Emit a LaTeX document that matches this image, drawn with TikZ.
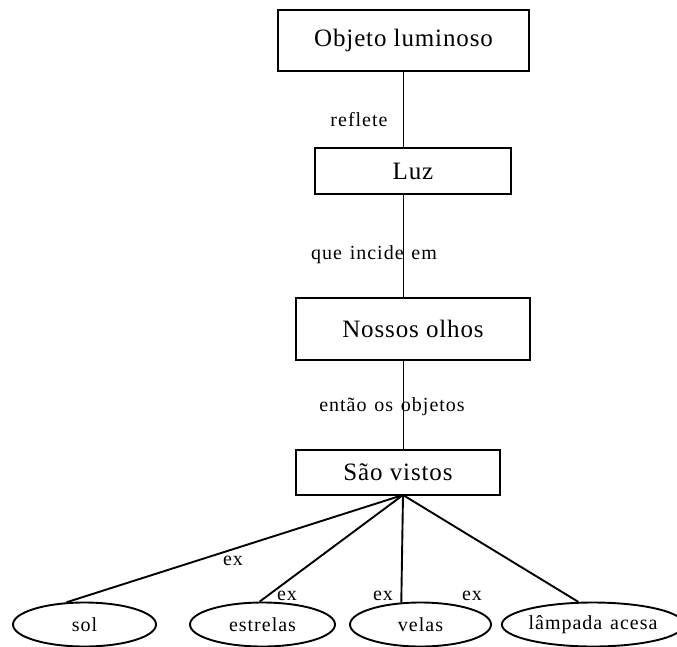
\documentclass[tikz,border=0pt]{standalone}
\usepackage{fontspec}
\setmainfont{Liberation Serif}[LetterSpace=3.5]
\newfontfamily\lblfont{Liberation Serif}[LetterSpace=5,WordSpace=1.3]
\usetikzlibrary{shapes.geometric,calc}
\tikzset{
  box/.style={draw, line width=1.9pt, inner sep=0pt, font=\fontsize{25}{29}\selectfont},
  oval/.style={draw, ellipse, line width=1.9pt, inner sep=0pt, minimum height=44pt, font=\lblfont\fontsize{20}{24}\selectfont},
  lbl/.style={inner sep=0pt, font=\lblfont\fontsize{20}{24}\selectfont},
  link/.style={line width=1.9pt}
}
\begin{document}
\begin{tikzpicture}[x=1pt,y=-1pt]
\useasboundingbox (0,0) rectangle (677,646);
\node[box, minimum width=251pt, minimum height=61pt] (obj) at (403.5,40.5) {Objeto luminoso};
\node[box, minimum width=196pt, minimum height=46pt] (luz) at (413,171) {Luz};
\node[box, minimum width=234pt, minimum height=62pt] (olhos) at (413,329) {Nossos olhos};
\node[box, minimum width=204pt, minimum height=45pt] (vistos) at (398,472.5) {São vistos};
\node[lbl] (l1) at (359,120) {reflete};
\node[lbl] (l2) at (374,255) {que incide em};
\node[lbl] (l3) at (392,407) {então os objetos};
\node[oval, minimum width=143pt] (sol) at (84.5,624.5) {sol};
\node[oval, minimum width=145pt] (est) at (262.5,624.5) {estrelas};
\node[oval, minimum width=141pt] (vel) at (420.5,624.5) {velas};
\node[oval, minimum width=170pt] (lam) at (593,624.5) {lâmpada acesa};
\node[lbl] (e1) at (233,561) {ex};
\node[lbl] (e2) at (287,596) {ex};
\node[lbl] (e3) at (383,596) {ex};
\node[lbl] (e4) at (472,596) {ex};
\coordinate (apex) at (403,495);
\draw[link] (obj.south) -- (obj.south |- luz.north);
\draw[link] (obj.south |- luz.south) -- (obj.south |- olhos.north);
\draw[link] (obj.south |- olhos.south) -- (obj.south |- vistos.north);
\draw[link] (apex) -- (sol.129);
\draw[link] (apex) -- (est.97);
\draw[link] (apex) -- (vel.131);
\draw[link] (apex) -- (lam.123);
\end{tikzpicture}
\end{document}
